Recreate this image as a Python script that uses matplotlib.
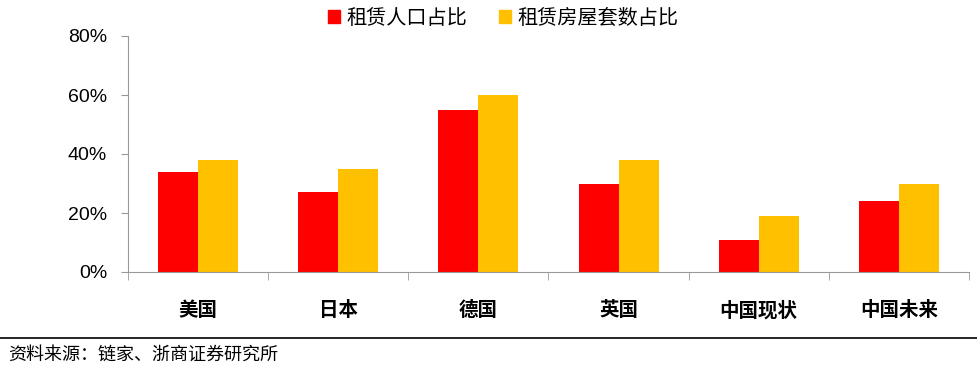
import matplotlib
matplotlib.use("Agg")
import matplotlib.pyplot as plt
import numpy as np
from matplotlib.patches import Patch

categories = ["美国", "日本", "德国", "英国", "中国现状", "中国未来"]
renter_pop = [34, 27, 55, 30, 11, 24]
rental_units = [38, 35, 60, 38, 19, 30]
series_names = ["租赁人口占比", "租赁房屋套数占比"]
yticks = [0, 20, 40, 60, 80]
source = "资料来源：链家、浙商证券研究所"

plt.rcParams['font.family'] = ['Noto Sans CJK SC', 'DejaVu Sans']

fig = plt.figure(figsize=(9.78, 3.69), dpi=100)
ax = fig.add_axes([128/978, 1-272/369, (969-128)/978, (272-36)/369])

x = np.arange(len(categories))
w = 40/140
ax.bar(x - w/2, renter_pop, width=w, color="#FF0000", label=series_names[0])
ax.bar(x + w/2, rental_units, width=w, color="#FFC000", label=series_names[1])

ax.set_xlim(-0.5, len(categories) - 0.5)
ax.set_ylim(0, 80)
ax.set_yticks(yticks)
ax.set_yticklabels([f"{v}%" for v in yticks], family=['Liberation Sans', 'DejaVu Sans'], fontsize=14)
ax.set_xticks(x)
ax.set_xticklabels(categories, fontsize=14, fontweight='bold')
ax.set_xticks(np.arange(len(categories) + 1) - 0.5, minor=True)
ax.tick_params(axis='x', which='major', length=0, pad=21)
ax.tick_params(axis='x', which='minor', length=6, color='#999999', direction='out')
ax.tick_params(axis='y', length=5, color='#999999', pad=10)

for s in ['top', 'right']:
    ax.spines[s].set_visible(False)
ax.spines['left'].set_color('#999999')
ax.spines['bottom'].set_color('#999999')

handles = [Patch(color="#FF0000"), Patch(color="#FFC000")]
fig.legend(handles, series_names, loc='center', bbox_to_anchor=(503/978, 1-18/369),
           ncol=2, frameon=False, fontsize=14.5, handlelength=0.6, handleheight=0.6,
           handletextpad=0.3, columnspacing=1.6)

fig.add_artist(plt.Line2D([0, 1], [1-338/369, 1-338/369], color='black', linewidth=1.2))
fig.text(8/978, 1-355/369, source, fontsize=13, va='center', ha='left')

fig.savefig("out.png", dpi=100)
